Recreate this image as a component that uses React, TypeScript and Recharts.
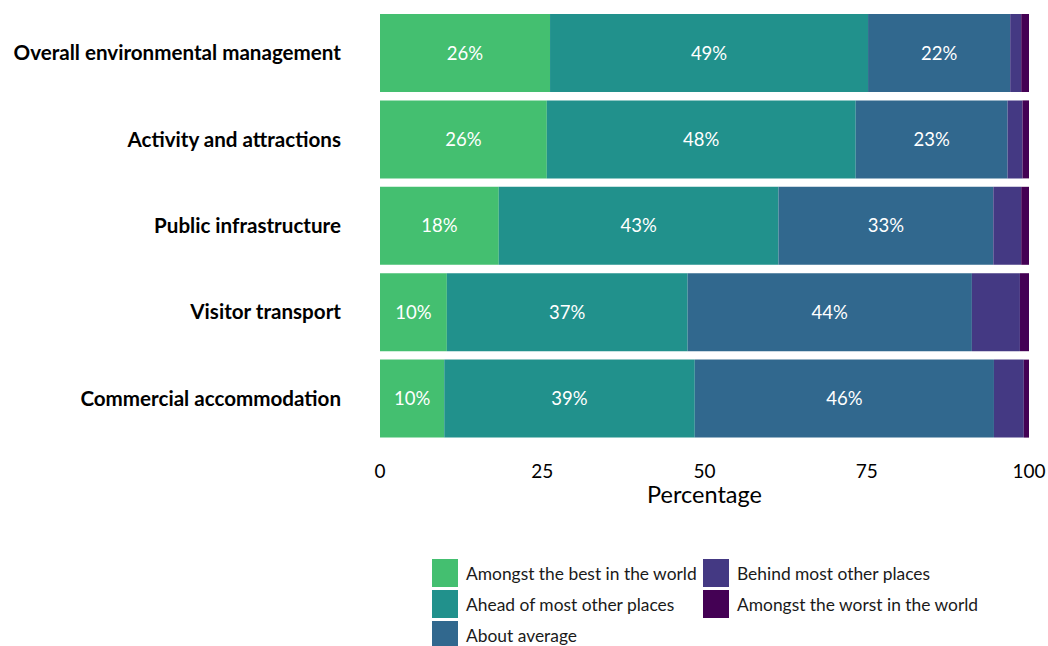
import { BarChart, Bar, XAxis, YAxis, Legend, LabelList } from "recharts";

const categories = [
  "Overall environmental management",
  "Activity and attractions",
  "Public infrastructure",
  "Visitor transport",
  "Commercial accommodation",
];

const seriesNames = [
  "Amongst the best in the world",
  "Ahead of most other places",
  "About average",
  "Behind most other places",
  "Amongst the worst in the world",
];

const best = [26.2, 25.7, 18.3, 10.3, 9.9];
const ahead = [49.0, 47.6, 43.1, 37.1, 38.6];
const average = [21.9, 23.4, 33.1, 43.8, 46.1];
const behind = [1.7, 2.3, 4.3, 7.4, 4.6];
const worst = [1.2, 1.0, 1.2, 1.4, 0.8];

const xTicks = [0, 25, 50, 75, 100];

const colors = ["#44bf70", "#21918c", "#31688e", "#443983", "#440154"];
const keys = ["best", "ahead", "average", "behind", "worst"];
// only the three biggest groups get a value label
const labelled = [true, true, true, false, false];

const data = categories.map((name, i) => ({
  name,
  best: best[i],
  ahead: ahead[i],
  average: average[i],
  behind: behind[i],
  worst: worst[i],
}));

const FONT = "Lato, 'Open Sans', sans-serif";

function CategoryTick(props: any) {
  const { x, y, payload } = props;
  return (
    <text
      x={x}
      y={y}
      dy={7}
      textAnchor="end"
      fontFamily={FONT}
      fontWeight={700}
      fontSize={20.6}
      fill="#000"
    >
      {payload.value}
    </text>
  );
}

function LegendBox() {
  // column-major, three rows
  const items = seriesNames.map((n, i) => ({ n, c: colors[i], col: Math.floor(i / 3), row: i % 3 }));
  return (
    <div style={{ position: "relative", width: 580, height: 96, fontFamily: FONT }}>
      {items.map((it) => (
        <div
          key={it.n}
          style={{
            position: "absolute",
            left: it.col * 271,
            top: it.row * 31,
            display: "flex",
            alignItems: "center",
            height: 28,
          }}
        >
          <span style={{ width: 26, height: 28, background: it.c, display: "inline-block" }} />
          <span style={{ marginLeft: 8, fontSize: 17.4, color: "#1a1a1a", whiteSpace: "nowrap" }}>{it.n}</span>
        </div>
      ))}
    </div>
  );
}

export default function App() {
  // full-window frame so the "100" tick and the last legend row reach the edges
  return (
    <>
      <style>{"body{margin:0}"}</style>
      <div
        style={{
          width: 1048,
          height: 646,
          padding: 8,
          boxSizing: "border-box",
          overflow: "hidden",
        }}
      >
        <BarChart
          width={1040}
          height={660}
          data={data}
          layout="vertical"
          margin={{ top: 2, right: 19, left: 0, bottom: 164 }}
          style={{ overflow: "visible" }}
        >
          <XAxis
            type="number"
            domain={[0, 100]}
            ticks={xTicks}
            axisLine={false}
            tickLine={false}
            tickMargin={17}
            height={62}
            interval={0}
            tick={{ fontSize: 19, fill: "#000", fontFamily: FONT }}
            label={{
              value: "Percentage",
              position: "insideBottom",
              offset: 1,
              fontSize: 23.5,
              fill: "#000",
              fontFamily: FONT,
            }}
          />
          <YAxis
            type="category"
            dataKey="name"
            width={372}
            axisLine={false}
            tickLine={false}
            tickSize={0}
            tickMargin={39}
            tick={<CategoryTick />}
          />
          <Legend
            layout="horizontal"
            verticalAlign="middle"
            align="center"
            wrapperStyle={{ top: 551, left: 424, width: 580 }}
            content={() => <LegendBox />}
          />
          {keys.map((k, i) => (
            <Bar
              key={k}
              dataKey={k}
              name={seriesNames[i]}
              stackId="a"
              fill={colors[i]}
              barSize={78}
              isAnimationActive={false}
            >
              {labelled[i] && (
                <LabelList
                  dataKey={k}
                  position="center"
                  fill="#fff"
                  fontSize={18.5}
                  fontFamily={FONT}
                  formatter={(v: any) => `${Math.round(Number(v))}%`}
                />
              )}
            </Bar>
          ))}
        </BarChart>
      </div>
    </>
  );
}
